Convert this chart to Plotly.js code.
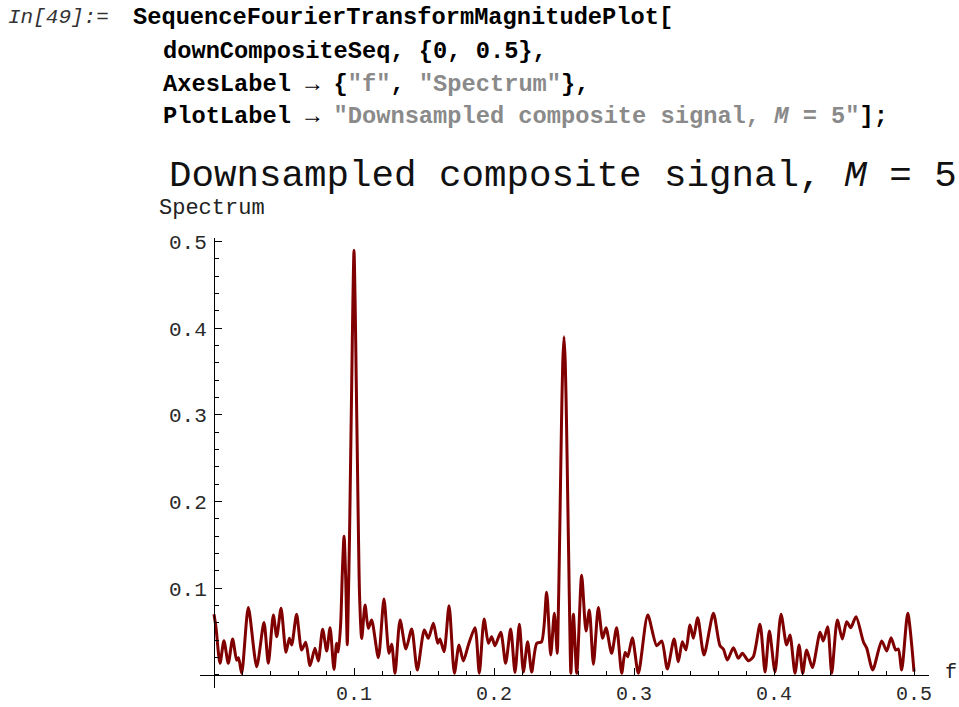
<!DOCTYPE html>
<html>
<head>
<meta charset="utf-8">
<script src="https://cdn.plot.ly/plotly-3.0.1.min.js"></script>
<style>html,body{margin:0;padding:0;background:#fff;}#plot{width:959px;height:707px;}</style>
</head>
<body>
<div id="plot"></div>
<script>
// Frequency (cycles/sample) and spectrum magnitude
const freq = [
0.0000,0.0014,0.0043,0.0071,0.0102,0.0133,0.0162,0.0175,0.0198,0.0245,0.0305,0.0357,0.0388,0.0424,0.0448,0.0479,
0.0514,0.0538,0.0555,0.0590,0.0626,0.0655,0.0686,0.0721,0.0745,0.0776,0.0805,0.0829,0.0857,0.0876,0.0888,
0.0905,0.0917,0.0929,0.0941,0.0952,
0.0960,0.0968,0.0976,0.0984,0.0992,0.1000,0.1008,0.1016,0.1024,0.1032,0.1040,0.1055,
0.1079,0.1102,0.1126,0.1174,0.1214,0.1250,0.1269,0.1293,0.1329,0.1371,0.1412,0.1452,0.1502,0.1531,0.1567,
0.1598,0.1614,0.1643,0.1679,0.1717,0.1750,0.1781,0.1817,0.1864,0.1895,0.1929,0.1960,0.1983,0.2007,0.2048,
0.2083,0.2119,0.2150,0.2181,0.2210,0.2240,0.2269,0.2305,0.2340,0.2376,0.2405,0.2431,0.2452,
0.2458,0.2466,0.2474,0.2482,0.2491,0.2500,0.2509,0.2518,0.2526,0.2534,0.2542,0.2549,
0.2567,0.2591,0.2626,0.2657,0.2681,0.2710,0.2745,0.2776,0.2800,0.2840,0.2876,0.2912,0.2936,0.2955,0.2988,
0.3031,0.3098,0.3162,0.3198,0.3238,0.3286,0.3317,0.3345,0.3371,0.3400,0.3424,0.3455,0.3500,0.3567,0.3614,
0.3638,0.3667,0.3710,0.3745,0.3774,0.3817,0.3852,0.3900,0.3936,0.3967,0.4007,0.4050,0.4090,0.4114,0.4150,
0.4179,0.4205,0.4233,0.4274,0.4329,0.4352,0.4383,0.4412,0.4452,0.4488,0.4519,0.4548,0.4586,0.4638,0.4662,
0.4705,0.4769,0.4805,0.4836,0.4869,0.4888,0.4912,0.4955,0.5000
];
const spectrum = [
0.070,0.055,0.0135,0.0396,0.0135,0.0415,0.017,0.020,0.002,0.0777,0.0096,0.0604,0.0135,0.0692,0.0442,0.077,
0.0262,0.0423,0.0346,0.070,0.0288,0.0377,0.0108,0.0308,0.0161,0.0527,0.0277,0.0546,0.0065,0.0365,0.0265,
0.060,0.120,0.160,0.110,0.035,
0.090,0.160,0.250,0.340,0.430,0.490,0.430,0.340,0.250,0.160,0.090,0.042,
0.0807,0.0538,0.0634,0.020,0.0877,0.025,0.0354,0.002,0.0634,0.030,0.0531,0.0058,0.0519,0.0423,0.0596,
0.0365,0.0415,0.0269,0.080,0.002,0.0346,0.0161,0.0346,0.0546,0.002,0.0646,0.0365,0.0442,0.0338,0.0492,
0.0135,0.0531,0.003,0.0585,0.0035,0.0384,0.0035,0.0365,0.0384,0.0954,0.023,0.0711,0.025,
0.060,0.130,0.210,0.290,0.360,0.390,0.360,0.290,0.210,0.130,0.050,0.002,
0.070,0.002,0.115,0.0507,0.075,0.0123,0.0777,0.0423,0.0546,0.025,0.0546,0.002,0.0261,0.021,0.043,
0.002,0.0692,0.0338,0.0392,0.0069,0.0415,0.0154,0.0384,0.0288,0.0577,0.0423,0.0661,0.023,0.0711,0.0338,
0.030,0.0173,0.0315,0.0192,0.025,0.0165,0.021,0.0585,0.0035,0.0507,0.0035,0.070,0.0346,0.0461,0.002,
0.0346,0.002,0.0288,0.0085,0.0492,0.0392,0.0557,0.002,0.0634,0.0415,0.0615,0.0546,0.0673,0.0384,0.031,
0.0058,0.0392,0.0277,0.043,0.0288,0.030,0.0058,0.0711,0.004
];
const xTickVals = [0.1, 0.2, 0.3, 0.4, 0.5];
const xTickText = ["0.1", "0.2", "0.3", "0.4", "0.5"];
const yTickVals = [0.1, 0.2, 0.3, 0.4, 0.5];
const yTickText = ["0.1", "0.2", "0.3", "0.4", "0.5"];
const titleText = "Downsampled composite signal, <i>M</i> = 5";
const xLabel = "f";
const yLabel = "Spectrum";

// page layout helpers (plot area: px 200..929, py 238..688)
const L = 200, R = 929, T = 238, B = 688;
function px(x) { return (x - L) / (R - L); }
function py(y) { return (B - y) / (B - T); }

const mono = "Liberation Mono, Courier New, monospace";
const gray = '<span style="color:#8a8a8a">';
function code(x, y, text, extra) {
  return Object.assign({
    xref: 'paper', yref: 'paper', x: px(x), y: py(y), xanchor: 'left', yanchor: 'middle',
    showarrow: false, text: text,
    font: {family: mono, size: 23.7, color: '#000', weight: 700}
  }, extra || {});
}

const annotations = [
  code(6, 18, "<i>In[49]:=</i>", {font: {family: mono, size: 21, color: '#333', weight: 400}}),
  code(131, 18, "SequenceFourierTransformMagnitudePlot["),
  code(161, 51, "downCompositeSeq, {0, 0.5},"),
  code(161, 84, "AxesLabel \u2192 {" + gray + "\"f\"</span>, " + gray + "\"Spectrum\"</span>},"),
  code(161, 117, "PlotLabel \u2192 " + gray + "\"Downsampled composite signal, <i>M</i> = 5\"</span>];"),
  {xref: 'paper', yref: 'paper', x: px(563), y: py(176), xanchor: 'center', yanchor: 'middle',
   showarrow: false, text: titleText, font: {family: mono, size: 37.5, color: '#111'}},
  {xref: 'paper', yref: 'paper', x: px(212), y: py(209), xanchor: 'center', yanchor: 'middle',
   showarrow: false, text: yLabel, font: {family: mono, size: 22, color: '#222'}},
  {xref: 'paper', yref: 'paper', x: px(943), y: py(672), xanchor: 'left', yanchor: 'middle',
   showarrow: false, text: xLabel, font: {family: mono, size: 20, color: '#222'}}
];

const trace = {
  x: freq, y: spectrum, type: 'scatter', mode: 'lines',
  line: {color: '#800000', width: 3, shape: 'spline', smoothing: 0.7},
  hoverinfo: 'skip'
};

const layout = {
  width: 959, height: 707,
  margin: {l: L, r: 959 - R, t: T, b: 707 - B, pad: 0},
  paper_bgcolor: '#fff', plot_bgcolor: '#fff',
  showlegend: false,
  xaxis: {
    range: [-0.01, 0.5107], anchor: 'free', position: (B - 675) / (B - T),
    showgrid: false, zeroline: false, showline: true, linecolor: '#000', linewidth: 1,
    tickmode: 'array', tickvals: xTickVals, ticktext: xTickText,
    ticks: 'inside', ticklen: 7, tickwidth: 1, tickcolor: '#000',
    ticklabelstandoff: 0,
    tickfont: {family: mono, size: 20, color: '#2a2a2a'},
    minor: {tickmode: 'linear', tick0: 0, dtick: 0.02, ticks: 'inside', ticklen: 4, tickwidth: 1, tickcolor: '#000', showgrid: false}
  },
  yaxis: {
    range: [-0.015, 0.504], anchor: 'free', position: (214 - L) / (R - L),
    showgrid: false, zeroline: false, showline: true, linecolor: '#000', linewidth: 1,
    tickmode: 'array', tickvals: yTickVals, ticktext: yTickText,
    ticks: 'inside', ticklen: 7, tickwidth: 1, tickcolor: '#000',
    ticklabelstandoff: 3,
    tickfont: {family: mono, size: 21, color: '#2a2a2a'},
    minor: {tickmode: 'linear', tick0: 0, dtick: 0.02, ticks: 'inside', ticklen: 4, tickwidth: 1, tickcolor: '#000', showgrid: false}
  },
  annotations: annotations
};

Plotly.newPlot('plot', [trace], layout, {displayModeBar: false, staticPlot: true});
</script>
</body>
</html>
